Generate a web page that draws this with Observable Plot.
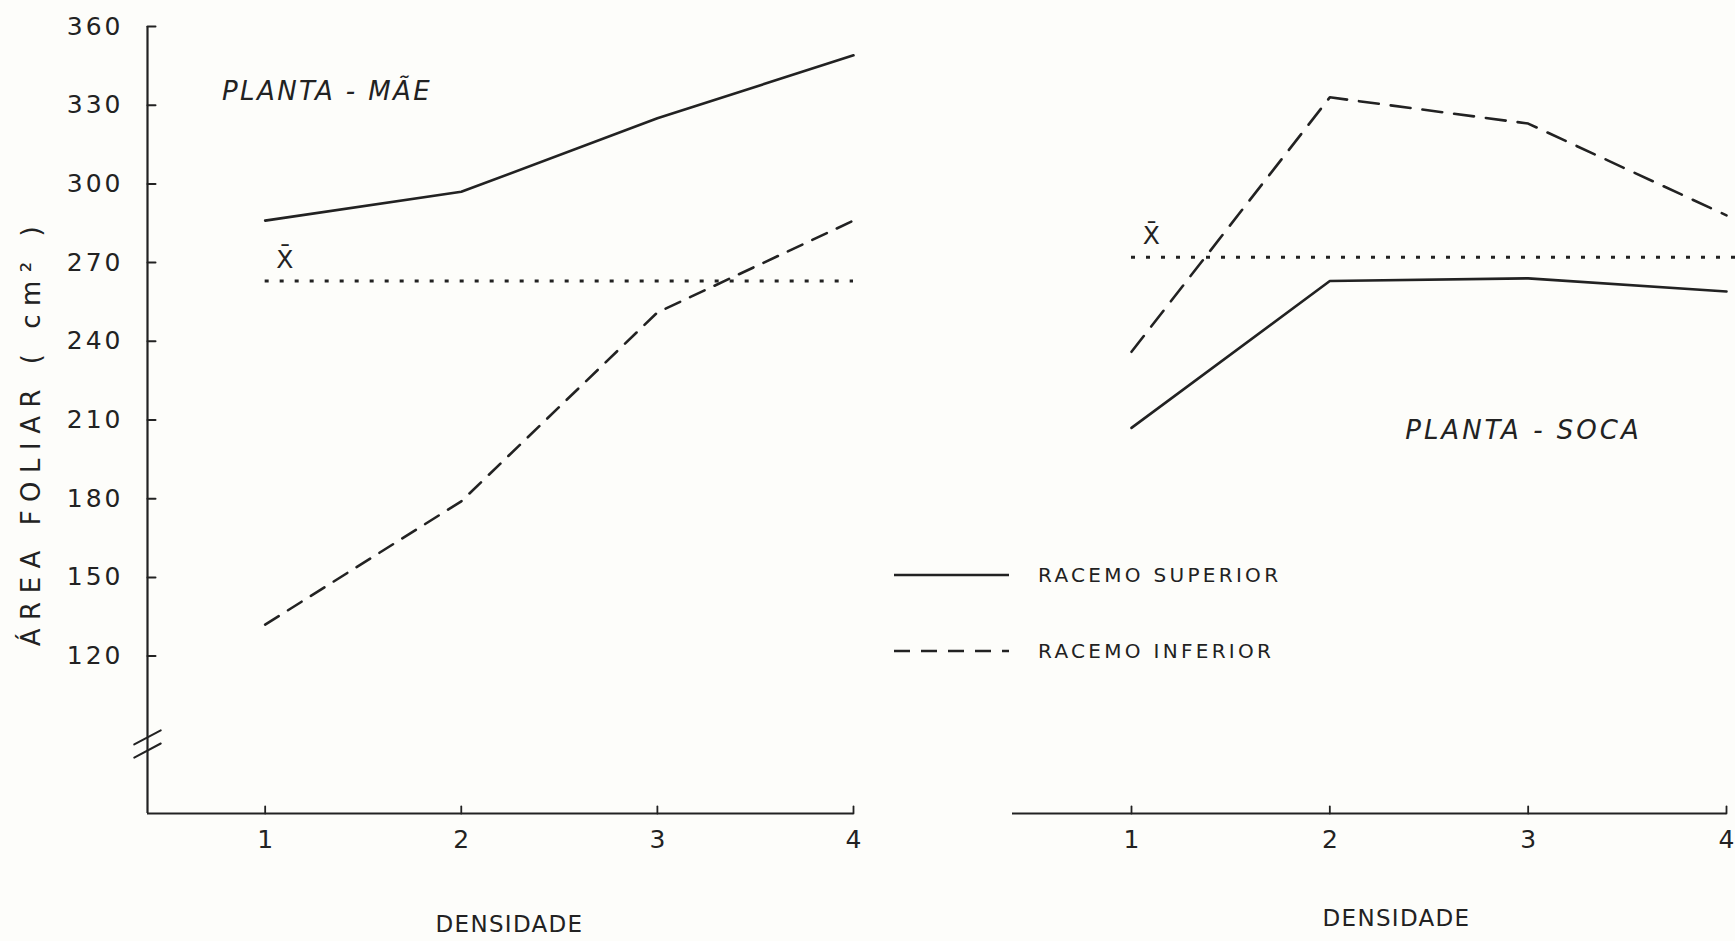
<!DOCTYPE html>
<html><head><meta charset="utf-8">
<script src="https://cdn.jsdelivr.net/npm/d3@7"></script>
<script src="https://cdn.jsdelivr.net/npm/@observablehq/plot@0.6"></script>
<style>
html,body{margin:0;padding:0;background:#fdfdfa;}
#wrap{position:relative;width:1735px;height:941px;overflow:hidden;font-family:"DejaVu Sans",sans-serif;color:#222;}
#left,#right{position:absolute;top:0;}
#left{left:0;} #right{left:870px;}
.lg{position:absolute;left:894px;height:20px;display:flex;align-items:center;}
.lg span{margin-left:28px;font-size:20px;letter-spacing:3.3px;color:#222;}
</style></head><body>
<div id="wrap"><div id="left"></div><div id="right"></div></div>
<script>
// ---- data ----
const densidade = [1, 2, 3, 4];
const maeSuperior = [286, 297, 325, 349];
const maeInferior = [132, 179, 251, 286];
const maeMedia = 263;
const socaSuperior = [207, 263, 264, 259];
const socaInferior = [236, 333, 323, 288];
const socaMedia = 272;
const yTicks = [120, 150, 180, 210, 240, 270, 300, 330, 360];
const xTicks = [1, 2, 3, 4];
const racemos = ["RACEMO SUPERIOR", "RACEMO INFERIOR"];

const rowsOf = (sup, inf) => densidade.flatMap((d, i) => [
  {densidade: d, area: sup[i], racemo: racemos[0]},
  {densidade: d, area: inf[i], racemo: racemos[1]}
]);
const maeRows = rowsOf(maeSuperior, maeInferior);
const socaRows = rowsOf(socaSuperior, socaInferior);

const ink = "#222";
const font = "DejaVu Sans, sans-serif";
const tickShape = {draw(ctx, l) { ctx.moveTo(0, 0); ctx.lineTo(0, -l); }};
const yDomain = [60, 360];
const xDomain = [0.4, 4];
const yLabel = "ÁREA FOLIAR ( cm² )";

function spacing(svg, map) {
  d3.select(svg).selectAll("text").each(function() {
    const t = this.textContent;
    for (const [k, v] of map) if (t === k) this.setAttribute("letter-spacing", v);
  });
}

function panel({width, marginLeft, marginRight, rows, media, mediaEnd, showY, title, titleAt, titleSpacing, xbarAt, infDash, densDx, densDy}) {
  const marks = [
    Plot.ruleY([yDomain[0]], {x1: xDomain[0], x2: xDomain[1], stroke: ink, strokeWidth: 2.2}),
    Plot.vector(xTicks, {x: d => d, y: yDomain[0], length: 7, rotate: 0, anchor: "start", shape: tickShape, stroke: ink, strokeWidth: 1.8}),
    Plot.text(xTicks, {x: d => d, y: yDomain[0], text: d => String(d), lineAnchor: "top", dy: 17, fontSize: 25, fill: ink, fontFamily: font}),
    Plot.ruleY([media], {x1: 1, x2: mediaEnd, stroke: ink, strokeWidth: 3, strokeDasharray: "4,11"}),
    Plot.line(rows.filter(d => d.racemo === racemos[0]), {x: "densidade", y: "area", stroke: ink, strokeWidth: 2.6}),
    Plot.line(rows.filter(d => d.racemo === racemos[1]), {x: "densidade", y: "area", stroke: ink, strokeWidth: 2.6, strokeDasharray: infDash}),
    Plot.text(["X\u0304"], {x: xbarAt[0], y: xbarAt[1], fontSize: 25, fill: ink, fontFamily: font}),
    Plot.text([title], {x: titleAt[0], y: titleAt[1], textAnchor: "start", fontSize: 26, fontStyle: "italic", fill: ink, fontFamily: font}),
    Plot.text(["DENSIDADE"], {frameAnchor: "bottom", textAnchor: "middle", lineAnchor: "middle", dx: densDx, dy: densDy, fontSize: 23, fill: ink, fontFamily: font})
  ];
  if (showY) {
    marks.push(
      Plot.ruleX([xDomain[0]], {y1: yDomain[0], y2: yDomain[1], stroke: ink, strokeWidth: 2.2}),
      Plot.vector(yTicks, {x: xDomain[0], y: d => d, length: 8, rotate: 90, anchor: "start", shape: tickShape, stroke: ink, strokeWidth: 2}),
      Plot.text(yTicks, {x: xDomain[0], y: d => d, text: d => String(d), textAnchor: "end", dx: -24, fontSize: 25, fill: ink, fontFamily: font}),
      Plot.vector([89, 84], {x: xDomain[0], y: d => d, length: 30, rotate: 62, anchor: "middle", shape: tickShape, stroke: ink, strokeWidth: 2}),
      Plot.text([yLabel], {frameAnchor: "left", textAnchor: "middle", lineAnchor: "middle", rotate: -90, dx: -116, dy: 12, fontSize: 26, fill: ink, fontFamily: font})
    );
  }
  const svg = Plot.plot({
    width, height: 941, marginLeft, marginRight, marginTop: 26, marginBottom: 128,
    x: {domain: xDomain, axis: null},
    y: {domain: yDomain, axis: null},
    style: {background: "transparent", color: ink, fontFamily: font, overflow: "visible"},
    marks
  });
  spacing(svg, [
    [title, titleSpacing],
    ["DENSIDADE", "1.3px"],
    [yLabel, "8.5px"],
    ...yTicks.map(t => [String(t), "3px"])
  ]);
  return svg;
}

document.getElementById("left").append(panel({
  width: 870, marginLeft: 147, marginRight: 17, rows: maeRows, media: maeMedia, mediaEnd: 4,
  showY: true, title: "PLANTA - MÃE", titleAt: [0.78, 335], titleSpacing: "2.4px", xbarAt: [1.1, 271],
  infDash: "16,11", densDx: 9, densDy: 111
}));
document.getElementById("right").append(panel({
  width: 865, marginLeft: 142, marginRight: 9, rows: socaRows, media: socaMedia, mediaEnd: 4.05,
  showY: false, title: "PLANTA - SOCA", titleAt: [2.38, 206], titleSpacing: "3px", xbarAt: [1.1, 280],
  infDash: "20,12", densDx: 27, densDy: 105
}));

// legend (inside the figure area)
const wrap = d3.select("#wrap");
const legendTops = [565, 641];
racemos.forEach((name, i) => {
  const row = wrap.append("div").attr("class", "lg").style("top", legendTops[i] + "px");
  const s = row.append("svg").attr("width", 116).attr("height", 20);
  s.append("line").attr("x1", 0).attr("x2", 115).attr("y1", 10).attr("y2", 10)
    .attr("stroke", ink).attr("stroke-width", 2.6)
    .attr("stroke-dasharray", i === 0 ? null : "16,11");
  row.append("span").text(name);
});
</script>
</body></html>
